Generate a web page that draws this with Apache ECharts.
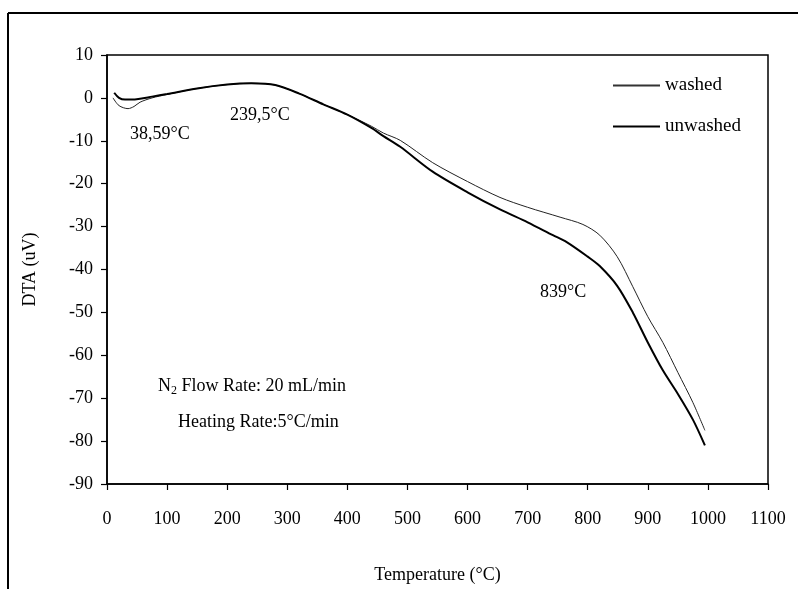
<!DOCTYPE html>
<html>
<head>
<meta charset="utf-8">
<script src="https://cdn.jsdelivr.net/npm/echarts@6/dist/echarts.min.js"></script>
<style>
  html, body { margin: 0; padding: 0; background: #fff; }
  #chart { width: 798px; height: 589px; }
</style>
</head>
<body>
<div id="chart"></div>
<script>
// DTA curves, temperature in °C, signal in uV
const washedT = [10, 20, 35, 45, 55, 75, 100, 150, 200, 240, 280, 320, 360, 400, 440, 460, 488, 542, 600, 654, 700, 754, 792, 820, 849, 875, 900, 925, 950, 975, 995];
const washedV = [0, -1.8, -2.5, -2, -1, 0, 0.8, 2.2, 3.1, 3.4, 3.0, 1.0, -1.5, -3.9, -6.6, -8.2, -9.9, -15.1, -19.5, -23.2, -25.5, -27.8, -29.5, -32, -37, -44, -51, -57, -64, -71, -77.5];

const unwashedT = [12, 20, 30, 40, 55, 75, 100, 150, 200, 240, 280, 320, 360, 400, 440, 460, 488, 542, 600, 654, 700, 742, 765, 800, 820, 849, 875, 900, 925, 950, 975, 995];
const unwashedV = [1.2, 0, -0.4, -0.4, -0.2, 0.3, 0.9, 2.2, 3.1, 3.4, 3.0, 1.0, -1.5, -3.9, -7, -8.9, -11.4, -17.2, -22, -26, -29, -32, -33.6, -37, -39.2, -43.8, -50, -57, -63.5, -69, -75, -81];

const xTicks = { min: 0, max: 1100, step: 100 };
const yTicks = { min: -90, max: 10, step: 10 };

const serif = "'Liberation Serif', 'DejaVu Serif', serif";

const chart = echarts.init(document.getElementById('chart'), null, { renderer: 'canvas' });

function pairs(xs, ys) {
    return xs.map((x, i) => [x, ys[i]]);
}

const option = {
    backgroundColor: '#fff',
    animation: false,
    grid: {
        left: 107,
        top: 55,
        right: 30,
        bottom: 103,
        show: true,
        borderColor: '#000',
        borderWidth: 1.5
    },
    legend: {
        left: 608,
        top: 71,
        orient: 'vertical',
        itemWidth: 47,
        itemHeight: 2,
        itemGap: 22,
        data: [
            { name: 'washed', icon: 'rect', itemStyle: { color: '#333' } },
            { name: 'unwashed', icon: 'rect', itemStyle: { color: '#000' } }
        ],
        textStyle: {
            fontFamily: serif,
            fontSize: 19,
            color: '#000'
        }
    },
    xAxis: {
        type: 'value',
        min: xTicks.min,
        max: xTicks.max,
        interval: xTicks.step,
        name: 'Temperature (°C)',
        nameLocation: 'middle',
        nameGap: 82,
        nameTextStyle: { fontFamily: serif, fontSize: 18, color: '#000' },
        axisLine: { onZero: false, lineStyle: { color: '#000', width: 1.5 } },
        axisTick: { show: true, length: 6, lineStyle: { color: '#000', width: 1.2 } },
        axisLabel: {
            fontFamily: serif, fontSize: 18, color: '#000', margin: 26,
            formatter: v => String(v)
        },
        splitLine: { show: false }
    },
    yAxis: {
        type: 'value',
        min: yTicks.min,
        max: yTicks.max,
        interval: yTicks.step,
        name: 'DTA (uV)',
        nameLocation: 'middle',
        nameRotate: 90,
        nameGap: 68,
        nameTextStyle: { fontFamily: serif, fontSize: 18, color: '#000' },
        axisLine: { show: true, onZero: false, lineStyle: { color: '#000', width: 1.5 } },
        axisTick: { show: true, length: 6, lineStyle: { color: '#000', width: 1.2 } },
        axisLabel: { fontFamily: serif, fontSize: 18, color: '#000', margin: 14 },
        splitLine: { show: false }
    },
    series: [
        {
            name: 'washed',
            type: 'line',
            data: pairs(washedT, washedV),
            smooth: 0.3,
            symbol: 'none',
            lineStyle: { color: '#222', width: 1 },
            itemStyle: { color: '#222' }
        },
        {
            name: 'unwashed',
            type: 'line',
            data: pairs(unwashedT, unwashedV),
            smooth: 0.3,
            symbol: 'none',
            lineStyle: { color: '#000', width: 2 },
            itemStyle: { color: '#000' }
        }
    ],
    graphic: [
        // outer frame of the scanned figure (top and left edges only)
        { type: 'line', shape: { x1: 8, y1: 13, x2: 798, y2: 13 }, style: { stroke: '#000', lineWidth: 2 } },
        { type: 'line', shape: { x1: 8, y1: 13, x2: 8, y2: 589 }, style: { stroke: '#000', lineWidth: 2 } },
        {
            type: 'text', left: 130, top: 125,
            style: { text: '38,59°C', font: '18px ' + serif, fill: '#000' }
        },
        {
            type: 'text', left: 230, top: 106,
            style: { text: '239,5°C', font: '18px ' + serif, fill: '#000' }
        },
        {
            type: 'text', left: 540, top: 283,
            style: { text: '839°C', font: '18px ' + serif, fill: '#000' }
        },
        {
            type: 'text', left: 158, top: 377,
            style: {
                text: '{a|N}{s|2}{a| Flow Rate: 20 mL/min}',
                rich: {
                    a: { fontFamily: serif, fontSize: 18, fill: '#000', color: '#000' },
                    s: { fontFamily: serif, fontSize: 12, fill: '#000', color: '#000', padding: [10, 0, 0, 0] }
                }
            }
        },
        {
            type: 'text', left: 178, top: 413,
            style: { text: 'Heating Rate:5°C/min', font: '18px ' + serif, fill: '#000' }
        }
    ]
};

chart.setOption(option);
</script>
</body>
</html>
